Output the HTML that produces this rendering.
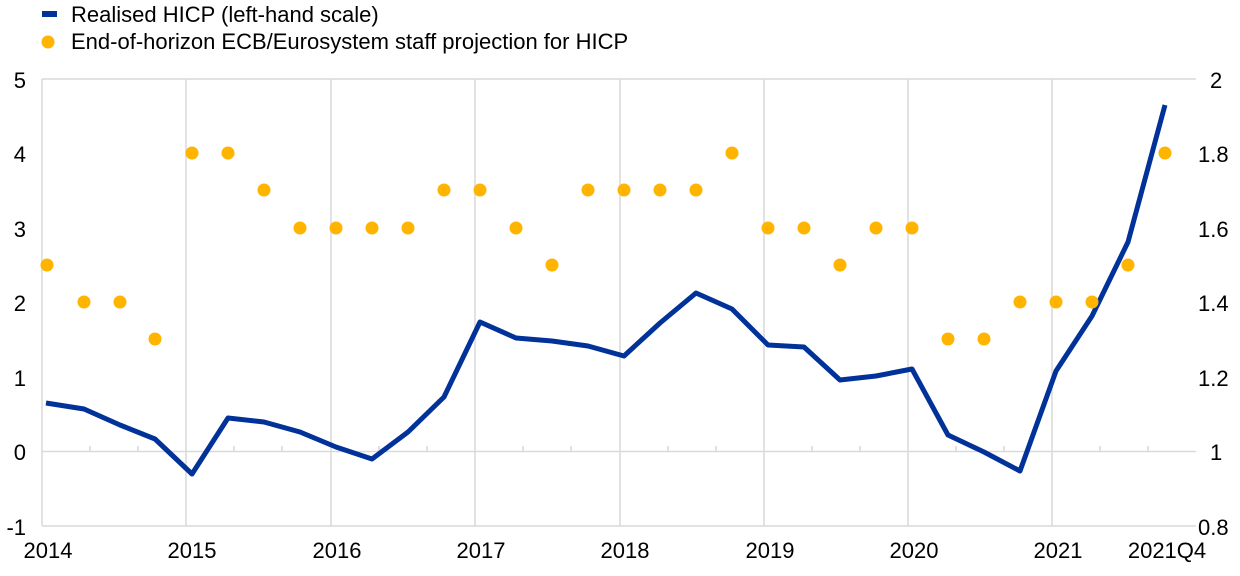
<!DOCTYPE html><html><head><style>body{margin:0;background:#fff}svg text{font-family:"Liberation Sans",Arial,sans-serif;font-size:22px;fill:#000}</style></head><body>
<svg width="1240" height="571" xmlns="http://www.w3.org/2000/svg">
<rect x="42" y="11" width="15" height="6" fill="#003299"/>
<text x="71" y="22">Realised HICP (left-hand scale)</text>
<circle cx="48" cy="42" r="6.5" fill="#ffb400"/>
<text x="71" y="49">End-of-horizon ECB/Eurosystem staff projection for HICP</text>
<g stroke="#d9d9d9" stroke-width="1.5">
<line x1="42" y1="79" x2="1196" y2="79"/>
<line x1="42" y1="451.5" x2="1196" y2="451.5"/>
<line x1="42" y1="526" x2="1196" y2="526"/>
<line x1="42" y1="79" x2="42" y2="526"/>
<line x1="186" y1="79" x2="186" y2="526"/><line x1="331" y1="79" x2="331" y2="526"/><line x1="475" y1="79" x2="475" y2="526"/><line x1="620" y1="79" x2="620" y2="526"/><line x1="764" y1="79" x2="764" y2="526"/><line x1="908" y1="79" x2="908" y2="526"/><line x1="1052" y1="79" x2="1052" y2="526"/>
<path d="M90 451v-5M138 451v-5M234 451v-5M282 451v-5M379 451v-5M427 451v-5M523 451v-5M571 451v-5M668 451v-5M716 451v-5M812 451v-5M860 451v-5M956 451v-5M1004 451v-5M1100 451v-5M1148 451v-5"/>
</g>
<g text-anchor="end"><text x="26" y="88">5</text><text x="26" y="162">4</text><text x="26" y="237">3</text><text x="26" y="311">2</text><text x="26" y="386">1</text><text x="26" y="460">0</text><text x="26" y="535">-1</text></g>
<g text-anchor="start"><text x="1210" y="88">2</text><text x="1198" y="162">1.8</text><text x="1198" y="237">1.6</text><text x="1198" y="311">1.4</text><text x="1198" y="386">1.2</text><text x="1210" y="460">1</text><text x="1198" y="535">0.8</text></g>
<g text-anchor="middle"><text x="48" y="558">2014</text><text x="192" y="558">2015</text><text x="337" y="558">2016</text><text x="481" y="558">2017</text><text x="625" y="558">2018</text><text x="770" y="558">2019</text><text x="914" y="558">2020</text><text x="1058" y="558">2021</text><text x="1167" y="558">2021Q4</text></g>
<polyline fill="none" stroke="#003299" stroke-width="5" stroke-linejoin="round" points="46,403 84,409 120,425 155,439 192,474 228,418 264,422 300,432 336,447 372,459 408,432 444,397 480,322 516,338 552,341 588,346 624,356 660,323 696,293 732,309 768,345 804,347 840,380 876,376 912,369 948,435 984,452 1020,471 1056,371 1092,316 1128,242 1165,105"/>
<g fill="#ffb400">
<circle cx="47" cy="265" r="6.5"/><circle cx="84" cy="302" r="6.5"/><circle cx="120" cy="302" r="6.5"/><circle cx="155" cy="339" r="6.5"/><circle cx="192" cy="153" r="6.5"/><circle cx="228" cy="153" r="6.5"/><circle cx="264" cy="190" r="6.5"/><circle cx="300" cy="228" r="6.5"/><circle cx="336" cy="228" r="6.5"/><circle cx="372" cy="228" r="6.5"/><circle cx="408" cy="228" r="6.5"/><circle cx="444" cy="190" r="6.5"/><circle cx="480" cy="190" r="6.5"/><circle cx="516" cy="228" r="6.5"/><circle cx="552" cy="265" r="6.5"/><circle cx="588" cy="190" r="6.5"/><circle cx="624" cy="190" r="6.5"/><circle cx="660" cy="190" r="6.5"/><circle cx="696" cy="190" r="6.5"/><circle cx="732" cy="153" r="6.5"/><circle cx="768" cy="228" r="6.5"/><circle cx="804" cy="228" r="6.5"/><circle cx="840" cy="265" r="6.5"/><circle cx="876" cy="228" r="6.5"/><circle cx="912" cy="228" r="6.5"/><circle cx="948" cy="339" r="6.5"/><circle cx="984" cy="339" r="6.5"/><circle cx="1020" cy="302" r="6.5"/><circle cx="1056" cy="302" r="6.5"/><circle cx="1092" cy="302" r="6.5"/><circle cx="1128" cy="265" r="6.5"/><circle cx="1165" cy="153" r="6.5"/>
</g>
</svg></body></html>
